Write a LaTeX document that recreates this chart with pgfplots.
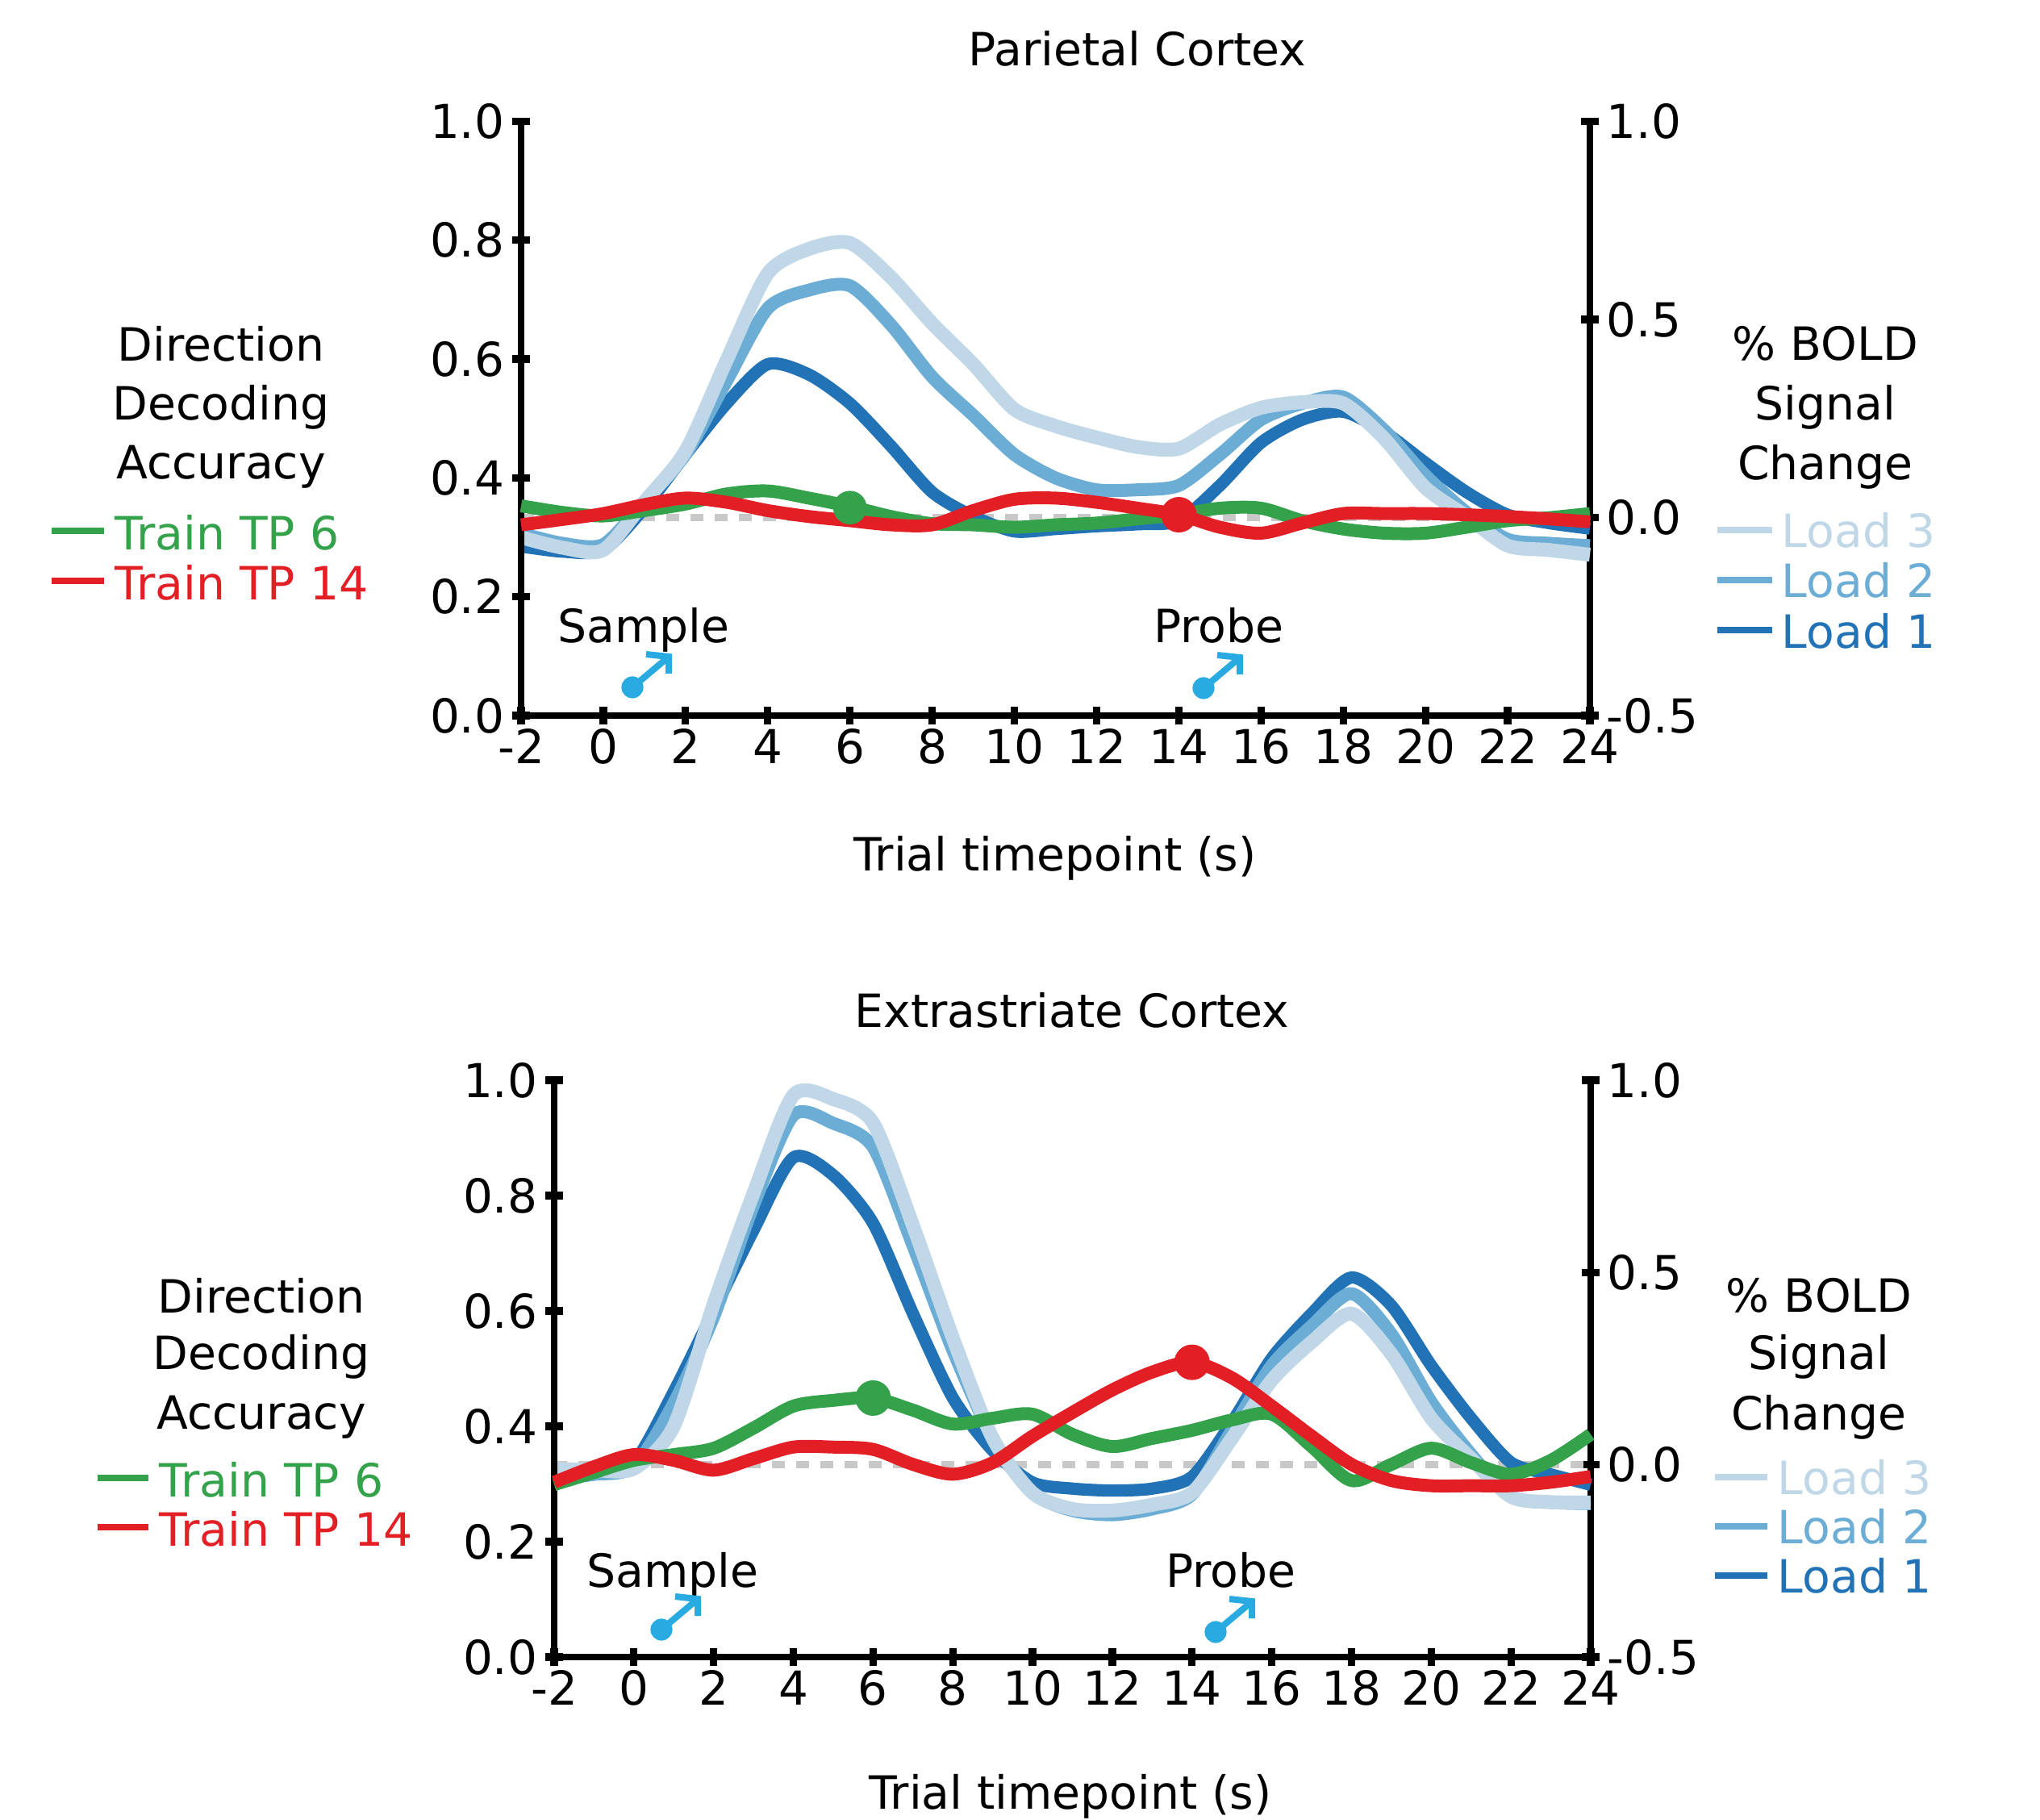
\documentclass[border=0pt]{standalone}
\usepackage{fontspec}
\setmainfont{DejaVu Sans}
\usepackage{pgfplots}
\pgfplotsset{compat=1.18}
\usepackage{pgfplotstable}
\definecolor{loadc}{HTML}{BFD7E7}
\definecolor{loadb}{HTML}{6CADD6}
\definecolor{loada}{HTML}{2272B6}
\definecolor{tpg}{HTML}{33A24A}
\definecolor{tpr}{HTML}{E31F26}
\definecolor{cue}{HTML}{29ABE2}
\definecolor{chance}{HTML}{C8C8C8}

% BOLD series (right axis)
\pgfplotstableread{
x l3 l2 l1
-2 -.05 -.04 -.073
-1 -.076 -.065 -.086
0 -.082 -.068 -.082
1 .04 .04 .024
2 .168 .16 .159
3 .397 .345 .288
4 .616 .528 .387
5 .678 .574 .361
6 .693 .585 .288
7 .606 .486 .18
8 .49 .355 .064
9 .387 .258 .003
10 .273 .159 -.035
11 .231 .10 -.029
12 .202 .07 -.022
13 .178 .07 -.017
14 .174 .081 -.008
15 .235 .159 .081
16 .277 .247 .189
17 .291 .288 .247
18 .288 .304 .267
19 .199 .22 .216
20 .075 .106 .138
21 .003 .013 .064
22 -.071 -.055 .007
23 -.082 -.065 -.014
24 -.094 -.071 -.028
}\boldtop
\pgfplotstableread{
x l3 l2 l1
-2 -.01 -.035 -.035
-1 -.014 -.025 -.025
0 -.01 -.005 .006
1 .10 .16 .19
2 .418 .385 .40
3 .706 .675 .61
4 .961 .909 .799
5 .951 .888 .753
6 .889 .826 .628
7 .622 .57 .393
8 .33 .298 .174
9 .069 .069 .037
10 -.073 -.073 -.046
11 -.115 -.119 -.062
12 -.119 -.13 -.067
13 -.104 -.115 -.062
14 -.073 -.077 -.031
15 .069 .09 .111
16 .22 .258 .277
17 .319 .361 .393
18 .393 .445 .487
19 .288 .34 .414
20 .121 .163 .258
21 .016 .027 .121
22 -.083 -.083 .006
23 -.097 -.098 -.025
24 -.098 -.101 -.052
}\boldbot
% Decoding series (left axis)
\pgfplotstableread{
x g r
-2 .353 .321
-1 .342 .33
0 .336 .34
1 .345 .355
2 .356 .366
3 .373 .359
4 .378 .345
5 .366 .335
6 .352 .328
7 .335 .321
8 .323 .321
9 .321 .345
10 .317 .364
11 .321 .366
12 .324 .359
13 .331 .349
14 .338 .338
15 .349 .317
16 .349 .307
17 .328 .324
18 .314 .34
19 .307 .34
20 .307 .34
21 .317 .338
22 .328 .335
23 .333 .331
24 .340 .326
}\dectop
\pgfplotstableread{
x g r
-2 .299 .303
-1 .32 .33
0 .341 .351
1 .351 .341
2 .362 .324
3 .397 .344
4 .435 .364
5 .445 .364
6 .449 .36
7 .428 .334
8 .404 .317
9 .414 .337
10 .421 .383
11 .386 .424
12 .365 .463
13 .379 .494
14 .393 .511
15 .411 .484
16 .421 .435
17 .365 .383
18 .306 .334
19 .334 .306
20 .362 .297
21 .337 .297
22 .317 .297
23 .341 .303
24 .386 .313
}\decbot

\pgfplotsset{
  panel/.style={
    scale only axis, clip=false, anchor=south west,
    xmin=-2, xmax=24,
    tick align=outside, major tick length=5.5pt,
    every tick/.style={black, line width=2.3pt},
    tick label style={font=\fontsize{14.5}{16}\selectfont},
    /pgf/number format/assume math mode=true,
  },
  leftpanel/.style={panel,
    axis x line=bottom, axis y line=left,
    x axis line style={-, line width=2pt, black},
    y axis line style={-, line width=2pt, black},
    ymin=0, ymax=1, ytick={0,0.2,0.4,0.6,0.8,1},
    xtick={-2,0,...,24},
    yticklabel style={xshift=1.1pt,/pgf/number format/fixed,/pgf/number format/fixed zerofill,/pgf/number format/precision=1},
    xticklabel style={/pgf/number format/fixed,yshift=2.1pt},
  },
  rightpanel/.style={panel,
    axis x line=none, axis y line=right,
    y axis line style={-, line width=2pt, black},
    ymin=-0.5, ymax=1, ytick={-0.5,0,0.5,1},
    yticklabel style={xshift=-1.1pt,/pgf/number format/fixed,/pgf/number format/fixed zerofill,/pgf/number format/precision=1},
  },
  s3/.style={smooth,tension=0.45,no marks,color=loadc,line width=4.3pt},
  s2/.style={smooth,tension=0.45,no marks,color=loadb,line width=4pt},
  s1/.style={smooth,tension=0.45,no marks,color=loada,line width=3.8pt},
  sg/.style={smooth,tension=0.5,no marks,color=tpg,line width=4pt},
  sr/.style={smooth,tension=0.5,no marks,color=tpr,line width=4pt},
}
\newcommand{\cue}[2]{%
  \fill[cue] (#1,#2) circle[radius=3.4pt];
  \draw[cue,line width=2pt] (#1,#2) -- ++(44,-37);
  \draw[cue,line width=2pt] (#1+17,#2-41) -- (#1+45,#2-38) -- (#1+45,#2-17);
}
\newcommand{\lab}[3]{\node[font=\fontsize{14.2}{16}\selectfont,#3] at (#1) {#2};}
\newcommand{\legline}[4]{\draw[#4,line width=1.9pt] (#1,#3) -- (#2,#3);}

\begin{document}
\begin{tikzpicture}
\path[use as bounding box] (0,0) rectangle (632.25pt,-564pt);

% ---------- top panel
\begin{axis}[rightpanel, at={(161.5pt,-221.75pt)}, width=331.25pt, height=184.125pt]
\addplot[chance,line width=2.1pt,dash pattern=on 4pt off 3.5pt] coordinates {(-2,0) (24,0)};
\addplot[s1] table[x=x,y=l1] {\boldtop};
\addplot[s2] table[x=x,y=l2] {\boldtop};
\addplot[s3] table[x=x,y=l3] {\boldtop};
\end{axis}
\begin{axis}[leftpanel, at={(161.5pt,-221.75pt)}, width=331.25pt, height=184.125pt]
\addplot[only marks,mark=*,mark size=5pt,color=tpg,mark options={draw=tpg,fill=tpg}] coordinates {(6,.35)};
\addplot[sg] table[x=x,y=g] {\dectop};
\addplot[sr] table[x=x,y=r] {\dectop};
\addplot[only marks,mark=*,mark size=5.3pt,color=tpr,mark options={draw=tpr,fill=tpr}] coordinates {(14,.338)};
\end{axis}

% ---------- bottom panel
\begin{axis}[rightpanel, at={(171.75pt,-513.5pt)}, width=321.25pt, height=178.75pt]
\addplot[chance,line width=2.1pt,dash pattern=on 4pt off 3.5pt] coordinates {(-2,0) (24,0)};
\addplot[s1] table[x=x,y=l1] {\boldbot};
\addplot[s2] table[x=x,y=l2] {\boldbot};
\addplot[s3] table[x=x,y=l3] {\boldbot};
\end{axis}
\begin{axis}[leftpanel, at={(171.75pt,-513.5pt)}, width=321.25pt, height=178.75pt]
\addplot[sg] table[x=x,y=g] {\decbot};
\addplot[sr] table[x=x,y=r] {\decbot};
\addplot[only marks,mark=*,mark size=5.3pt,color=tpg,mark options={draw=tpg,fill=tpg}] coordinates {(6,.449)};
\addplot[only marks,mark=*,mark size=5.3pt,color=tpr,mark options={draw=tpr,fill=tpr}] coordinates {(14,.511)};
\end{axis}

% ---------- annotations, in reference pixels
\begin{scope}[x=0.25pt,y=-0.25pt]
\lab{1410,60}{Parietal Cortex}{}
\lab{1329,1252}{Extrastriate Cortex}{}
\lab{1308,1064}{Trial timepoint (s)}{}
\lab{1327,2227}{Trial timepoint (s)}{}

\lab{274,426}{Direction}{}
\lab{274,505}{Decoding}{}
\lab{274,579}{Accuracy}{}
\lab{324,1606}{Direction}{}
\lab{324,1682}{Decoding}{}
\lab{324,1757}{Accuracy}{}

\lab{2263,426}{\% BOLD}{}
\lab{2263,505}{Signal}{}
\lab{2263,579}{Change}{}
\lab{2255,1606}{\% BOLD}{}
\lab{2255,1682}{Signal}{}
\lab{2255,1757}{Change}{}

\legline{64}{129}{658}{tpg}
\legline{64}{129}{720}{tpr}
\lab{142,660}{Train TP 6}{anchor=west,inner sep=0pt,text=tpg}
\lab{142,722}{Train TP 14}{anchor=west,inner sep=0pt,text=tpr}
\legline{121}{184}{1832}{tpg}
\legline{121}{184}{1893}{tpr}
\lab{197,1834}{Train TP 6}{anchor=west,inner sep=0pt,text=tpg}
\lab{197,1895}{Train TP 14}{anchor=west,inner sep=0pt,text=tpr}

\legline{2129}{2197}{657}{loadc}
\legline{2129}{2197}{719}{loadb}
\legline{2129}{2197}{781}{loada}
\lab{2208,657}{Load 3}{anchor=west,inner sep=0pt,text=loadc}
\lab{2208,719}{Load 2}{anchor=west,inner sep=0pt,text=loadb}
\lab{2208,782}{Load 1}{anchor=west,inner sep=0pt,text=loada}
\legline{2126}{2191}{1831}{loadc}
\legline{2126}{2191}{1892}{loadb}
\legline{2126}{2191}{1953}{loada}
\lab{2203,1831}{Load 3}{anchor=west,inner sep=0pt,text=loadc}
\lab{2203,1892}{Load 2}{anchor=west,inner sep=0pt,text=loadb}
\lab{2203,1953}{Load 1}{anchor=west,inner sep=0pt,text=loada}

\lab{798,781}{Sample}{}
\lab{1511,775}{Probe}{}
\lab{834,1952}{Sample}{}
\lab{1526,1946}{Probe}{}
\cue{784}{852}
\cue{1492}{853}
\cue{820}{2020}
\cue{1507}{2023}
\end{scope}
\end{tikzpicture}
\end{document}
